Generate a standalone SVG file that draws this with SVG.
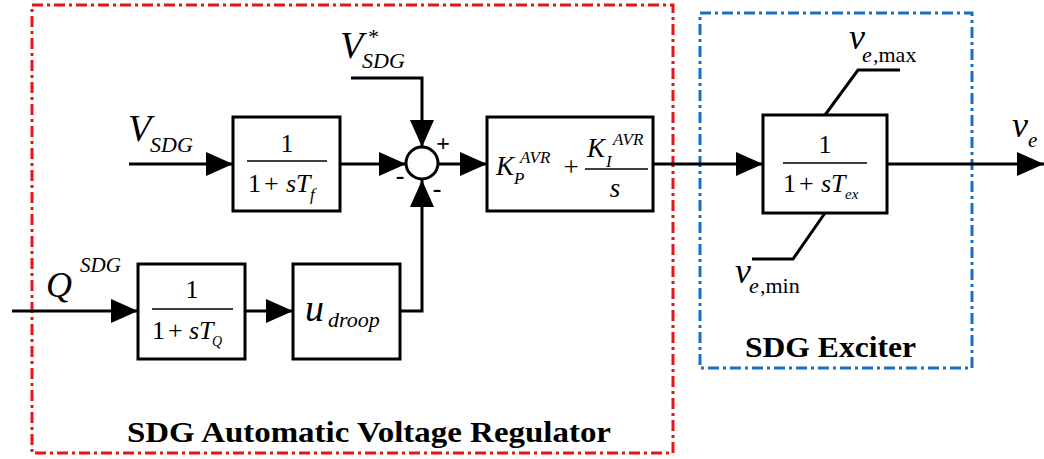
<svg xmlns="http://www.w3.org/2000/svg" width="1044" height="459" viewBox="0 0 1044 459">
<style>
.blk{fill:#fff;stroke:#000;stroke-width:3}
.ln{fill:none;stroke:#000;stroke-width:3}
.m{font-style:italic;fill:#000}
.r{fill:#000}
.lab{font-weight:bold;fill:#000}
.frac{stroke:#000;stroke-width:1.5}
</style>
<defs>
<marker id="ah" viewBox="0 0 27 24" refX="27" refY="12" markerWidth="27" markerHeight="24" markerUnits="userSpaceOnUse" orient="auto">
<path d="M0,0 L27,12 L0,24 Z" fill="#000"/>
</marker>
</defs>
<rect id="avr-frame" x="32" y="5" width="641" height="448" fill="none" stroke="#e8141a" stroke-width="3" stroke-dasharray="11 4 3 4"/>
<rect id="exciter-frame" x="700" y="13" width="272" height="355" fill="none" stroke="#1a6fc0" stroke-width="3" stroke-dasharray="11 4 3 4"/>
<g id="connectors">
<path class="ln" d="M129,164 H233" marker-end="url(#ah)"/>
<path class="ln" d="M340,164 H406" marker-end="url(#ah)"/>
<path class="ln" d="M351,78 H422 V147" marker-end="url(#ah)"/>
<path class="ln" d="M400,311 H422 V180" marker-end="url(#ah)"/>
<path class="ln" d="M438,164 H487" marker-end="url(#ah)"/>
<path class="ln" d="M653,164 H763" marker-end="url(#ah)"/>
<path class="ln" d="M887,164 H1044" marker-end="url(#ah)"/>
<path class="ln" d="M12,311 H138" marker-end="url(#ah)"/>
<path class="ln" d="M245,311 H293" marker-end="url(#ah)"/>
<path class="ln" d="M825,115 L858,70 H900"/>
<path class="ln" d="M825,213 L793,259 H752"/>
</g>
<g font-family="Liberation Serif, Times New Roman, Tinos, serif">
<g id="tf-block">
<rect class="blk" x="233" y="117" width="107" height="94"/>
<text class="r" x="287" y="152" font-size="26" text-anchor="middle">1</text>
<line class="frac" x1="247" y1="161" x2="327" y2="161"/>
<text class="r" x="248" y="192" font-size="26">1<tspan x="264">+</tspan><tspan class="m" x="286">sT</tspan></text>
<text class="m" x="310" y="200" font-size="17">f</text>
</g>
<g id="sum-junction">
<circle cx="422" cy="163" r="16" fill="#fff" stroke="#000" stroke-width="3"/>
<text class="lab" x="443" y="151" font-size="24" text-anchor="middle">+</text>
<text class="lab" x="400" y="184" font-size="26" text-anchor="middle">-</text>
<text class="lab" x="437" y="197" font-size="26" text-anchor="middle">-</text>
</g>
<g id="pi-block">
<rect class="blk" x="487" y="117" width="166" height="94"/>
<text class="m" x="496" y="175" font-size="27">K</text>
<text class="m" x="520" y="163" font-size="17">AVR</text>
<text class="m" x="514" y="184" font-size="17">P</text>
<text class="r" x="571" y="176" font-size="27" text-anchor="middle">+</text>
<text class="m" x="587" y="157" font-size="27">K</text>
<text class="m" x="613" y="145" font-size="17">AVR</text>
<text class="m" x="606" y="167" font-size="17">I</text>
<line class="frac" x1="585" y1="169" x2="648" y2="169"/>
<text class="m" x="615" y="197" font-size="27" text-anchor="middle">s</text>
</g>
<g id="exciter-block">
<rect class="blk" x="763" y="115" width="124" height="98"/>
<text class="r" x="825" y="153" font-size="26" text-anchor="middle">1</text>
<line class="frac" x1="783" y1="163" x2="867" y2="163"/>
<text class="r" x="783" y="192" font-size="26">1<tspan x="799">+</tspan><tspan class="m" x="821">sT</tspan></text>
<text class="m" x="845" y="199" font-size="15">ex</text>
</g>
<g id="tq-block">
<rect class="blk" x="138" y="264" width="107" height="95"/>
<text class="r" x="192" y="298" font-size="26" text-anchor="middle">1</text>
<line class="frac" x1="152" y1="309" x2="233" y2="309"/>
<text class="r" x="152" y="339" font-size="26">1<tspan x="168">+</tspan><tspan class="m" x="189">sT</tspan></text>
<text class="m" x="212" y="346" font-size="14">Q</text>
</g>
<g id="droop-block">
<rect class="blk" x="293" y="264" width="107" height="95"/>
<text class="m" x="305" y="321" font-size="38">u</text>
<text class="m" x="328" y="327" font-size="22">droop</text>
</g>
<g id="labels">
<text class="m" x="128" y="141" font-size="38">V</text>
<text class="m" x="150" y="152" font-size="22">SDG</text>
<text class="m" x="340" y="58" font-size="38">V</text>
<text class="r" x="368" y="44" font-size="22">*</text>
<text class="m" x="362" y="68" font-size="22">SDG</text>
<text class="m" x="46" y="297" font-size="36">Q</text>
<text class="m" x="80" y="272" font-size="21">SDG</text>
<text class="m" x="849" y="49" font-size="36">v</text>
<text class="m" x="862" y="62" font-size="22">e</text>
<text class="r" x="873" y="62" font-size="22">,max</text>
<text class="m" x="735" y="283" font-size="36">v</text>
<text class="m" x="749" y="293" font-size="22">e</text>
<text class="r" x="760" y="293" font-size="22">,min</text>
<text class="m" x="1012" y="137" font-size="36">v</text>
<text class="m" x="1028" y="147" font-size="21">e</text>
<text class="lab" x="127" y="442" font-size="30" textLength="484" lengthAdjust="spacingAndGlyphs">SDG Automatic Voltage Regulator</text>
<text class="lab" x="745" y="357" font-size="30" textLength="171" lengthAdjust="spacingAndGlyphs">SDG Exciter</text>
</g>
</g>
</svg>
